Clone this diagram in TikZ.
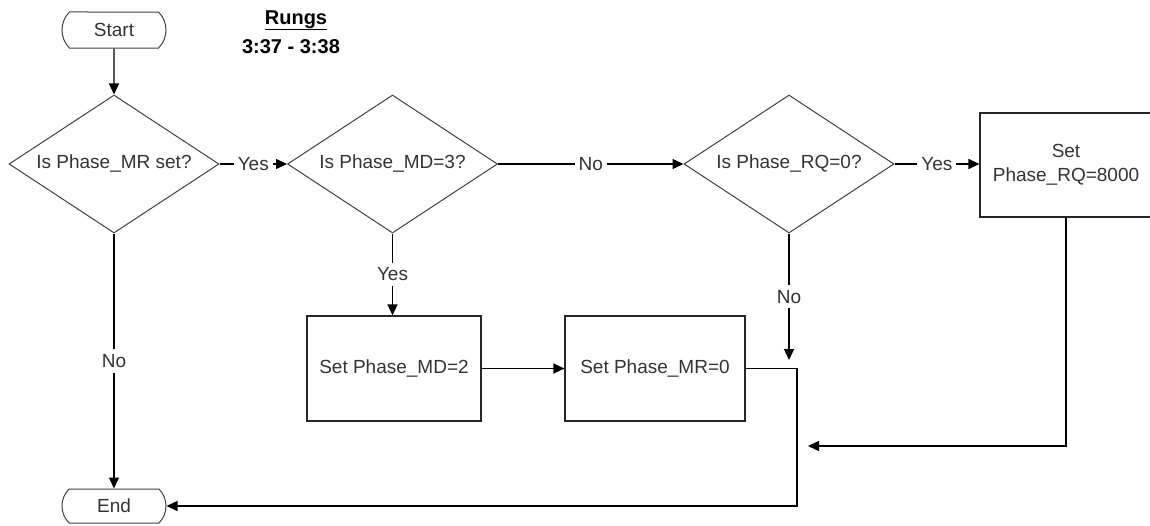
\documentclass[tikz,border=0pt]{standalone}
\usepackage{fontspec}
\setmainfont{Liberation Sans}
\usetikzlibrary{shapes.geometric,shapes.misc,arrows.meta}
\begin{document}
\begin{tikzpicture}[x=1pt,y=-1pt,
  every node/.style={font=\fontsize{19}{24}\selectfont, text=black!80},
  terminal/.style={draw=black!75, line width=1pt, rounded rectangle, rounded rectangle arc length=90, minimum width=104pt, inner sep=0pt},
  decision/.style={draw=black!75, line width=1pt, diamond, shape aspect=1.52, minimum width=210pt, minimum height=138pt, inner sep=0pt},
  process/.style={draw=black!85, line width=1.2pt, rectangle, inner sep=0pt},
  flow/.style={draw=black, line width=1.4pt},
  arr/.style={flow, -{Triangle[length=11pt,width=10pt]}},
  lbl/.style={fill=white, inner xsep=4pt, inner ysep=5pt},
  title/.style={font=\bfseries\fontsize{20}{24}\selectfont, text=black, anchor=base},
]
\useasboundingbox (0,0) rectangle (1150,525);
\clip (0,0) rectangle (1150,525);

% title
\node[title] (rungs) at (296,24) {\underline{Rungs}};
\node[title] (range) at (291,53) {3:37 - 3:38};

% nodes
\node[terminal, minimum height=36pt] (start) at (114,30) {Start};
\node[terminal, minimum height=34pt] (end) at (114,506) {End};
\node[decision] (d1) at (114,164) {Is Phase\_MR set?};
\node[decision] (d2) at (392.5,164) {Is Phase\_MD=3?};
\node[decision] (d3) at (789,164) {Is Phase\_RQ=0?};
\node[process, minimum width=172pt, minimum height=104pt, align=center] (rq) at (1066,165) {Set\\Phase\_RQ=8000};
\node[process, minimum width=174pt, minimum height=105pt] (md) at (394,368.5) {Set Phase\_MD=2};
\node[process, minimum width=180pt, minimum height=105pt] (mr) at (655,368.5) {Set Phase\_MR=0};

% free ends / corners
\coordinate (noend) at (789,360);
\coordinate (rail) at (797,506);
\coordinate (rqret) at (808,446);

% connectors
\draw[arr] (start) -- (d1);
\draw[arr] (d1.east) -- node[lbl]{Yes} (d2.west);
\draw[arr] (d2.east) -- node[lbl]{No} (d3.west);
\draw[arr] (d3.east) -- node[lbl]{Yes} (d3.east -| rq.west);
\draw[arr] (d2.south) -- node[lbl]{Yes} (d2.south |- md.north);
\draw[arr] (md) -- (mr);
\draw[arr] (d3.south) -- node[lbl]{No} (noend);
\draw[arr] (mr.east) -| (rail) -- (end.east);
\draw[arr] (rq.south) |- (rqret);
\draw[arr] (d1.south) -- node[lbl]{No} (end.north);
\end{tikzpicture}
\end{document}
